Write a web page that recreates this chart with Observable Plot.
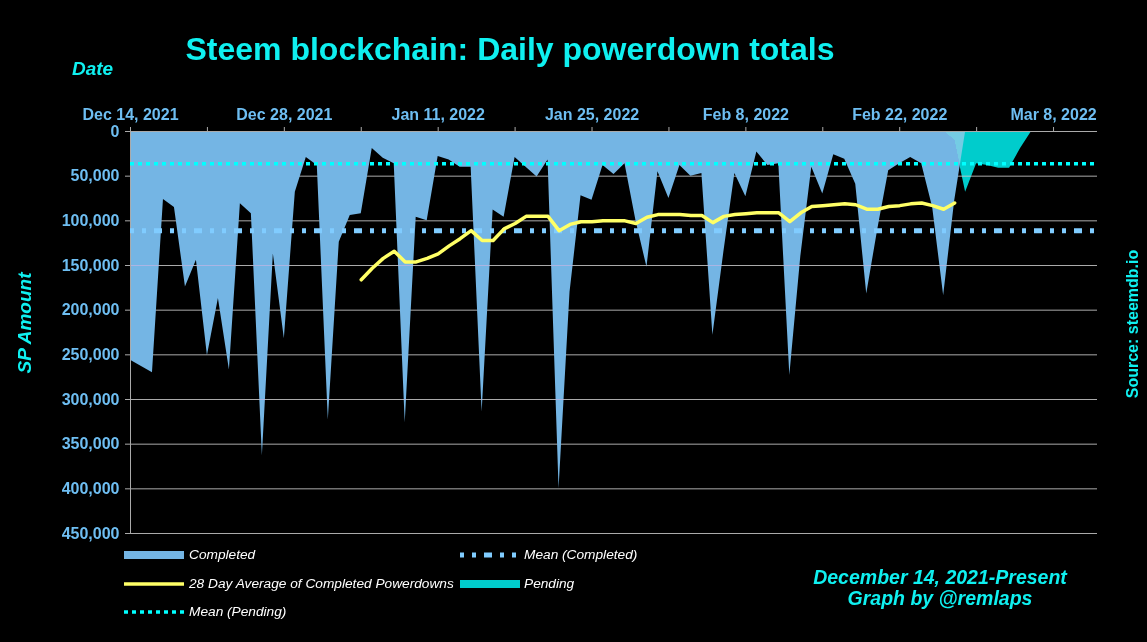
<!DOCTYPE html>
<html><head><meta charset="utf-8">
<script src="https://cdn.jsdelivr.net/npm/d3@7"></script>
<script src="https://cdn.jsdelivr.net/npm/@observablehq/plot@0.6"></script>
<style>
html,body{margin:0;padding:0;background:#000;}
#wrap{position:relative;width:1147px;height:642px;background:#000;overflow:hidden;font-family:"Liberation Sans",Arial,sans-serif;}
#wrap svg{position:absolute;left:0;top:0;}
.t{position:absolute;white-space:nowrap;line-height:1;}
.cyan{color:#0ff0f0;font-weight:bold;}
.leg{color:#fff;font-style:italic;font-size:13.7px;}
</style></head><body><div id="wrap"></div>
<script>
// ---- data ----
const startDate = "2021-12-14";
const completedSP = [256000,263000,270000,76000,85000,174000,144000,251000,187000,267000,
 81000,92000,363000,137000,232000,68000,29000,38000,323000,124000,
 94000,92000,19000,30000,36000,326000,96000,100000,28000,32000,
 40000,40000,314000,88000,96000,29000,40000,51000,32000,400000,
 180000,72000,77000,38000,48000,36000,100000,152000,45000,75000,
 38000,50000,47000,228000,135000,47000,73000,23000,38000,36000,
 273000,140000,40000,70000,26000,31000,59000,182000,110000,44000,
 36000,29000,36000,85000,184000,78000,0];
const pendingStartDay = 74;
const pendingSP = [0,10000,68000,36000,38000,41000,41000,19000,0];
const avgStartDay = 21;
const avg28SP = [166000,153000,142000,134000,146000,146000,142000,137000,128000,120000,
 111000,122000,122000,109000,103000,95000,95000,95000,111000,104000,
 101000,101000,100000,100000,100000,103000,96000,93000,93000,93000,
 94000,94000,102000,95000,93000,92000,91000,91000,91000,101000,
 91000,84000,83000,82000,81000,82000,87000,87000,84000,83000,
 81000,80000,83000,87000,80000];
const meanCompleted = 111000;
const meanPending = 36000;
const xDomain = ["2021-12-14","2022-03-12"];
const weekTicks = ["2021-12-14","2021-12-21","2021-12-28","2022-01-04","2022-01-11","2022-01-18","2022-01-25",
 "2022-02-01","2022-02-08","2022-02-15","2022-02-22","2022-03-01","2022-03-08"];
const labeledTicks = ["2021-12-14","2021-12-28","2022-01-11","2022-01-25","2022-02-08","2022-02-22","2022-03-08"];
const yTicks = [0,50000,100000,150000,200000,250000,300000,350000,400000,450000];
const legendItems = [
  {label:"Completed", kind:"area", color:"#74b5e4"},
  {label:"Mean (Completed)", kind:"dashC", color:"#80ccff"},
  {label:"28 Day Average of Completed Powerdowns", kind:"line", color:"#ffff66"},
  {label:"Pending", kind:"area", color:"#00cccc"},
  {label:"Mean (Pending)", kind:"dashP", color:"#00ffff"}
];

// ---- build ----
const parse = d3.utcParse("%Y-%m-%d");
const start = parse(startDate);
const compRows = completedSP.map((v,i)=>({date:d3.utcDay.offset(start,i), value:v}));
const pendRows = pendingSP.map((v,i)=>({date:d3.utcDay.offset(start,pendingStartDay+i), value:v}));
const avgRows = avg28SP.map((v,i)=>({date:d3.utcDay.offset(start,avgStartDay+i), value:v}));
const labelSet = new Set(labeledTicks.map(s=>parse(s).getTime()));
const fmt = d3.utcFormat("%b %-d, %Y");
const grey = "#aaaaaa";
const tickColor = "#6ebef2";

const chart = Plot.plot({
  width:1147, height:642,
  marginTop:131, marginBottom:109, marginLeft:130, marginRight:50,
  style:{background:"transparent", fontFamily:"Liberation Sans, Arial, sans-serif", overflow:"visible"},
  x:{type:"utc", domain:xDomain.map(parse), label:null},
  y:{domain:[0,450000], reverse:true, label:null},
  marks:[
    Plot.gridY(yTicks, {stroke:grey, strokeOpacity:1}),
    Plot.areaY(pendRows, {x:"date", y:"value", fill:"#00cccc", mixBlendMode:"lighten"}),
    Plot.areaY(compRows, {x:"date", y:"value", fill:"#74b5e4", mixBlendMode:"lighten"}),
    Plot.ruleY([0], {stroke:grey}),
    Plot.ruleX([parse(xDomain[0])], {stroke:grey}),
    Plot.ruleY([meanCompleted], {stroke:"#80ccff", strokeWidth:5, strokeDasharray:"4,8,4,8,8,8"}),
    Plot.ruleY([meanPending], {stroke:"#00ffff", strokeWidth:3.5, strokeDasharray:"4,4"}),
    Plot.lineY(avgRows, {x:"date", y:"value", stroke:"#ffff66", strokeWidth:3.5}),
    Plot.axisX(weekTicks.map(parse), {anchor:"top", tickSize:5, tickPadding:7, stroke:grey, fill:tickColor,
      fontSize:16, fontWeight:"bold", label:null,
      tickFormat:d=>labelSet.has(d.getTime()) ? fmt(d) : ""}),
    Plot.axisY(yTicks, {anchor:"left", tickSize:5, tickPadding:6, stroke:grey, fill:tickColor,
      fontSize:16, fontWeight:"bold", label:null, tickFormat:d3.format(",")})
  ]
});
const wrap = document.getElementById("wrap");
wrap.appendChild(chart);

function addText(txt, css, cls){
  const d = document.createElement("div");
  d.className = "t " + (cls||"");
  d.textContent = txt;
  Object.assign(d.style, css);
  wrap.appendChild(d);
  return d;
}
addText("Steem blockchain: Daily powerdown totals", {left:"0px", width:"1020px", textAlign:"center", top:"33px", fontSize:"32px"}, "cyan");
addText("Date", {left:"72px", top:(75-0.8465*19)+"px", fontSize:"19px", fontStyle:"italic"}, "cyan");
addText("SP Amount", {left:"24px", top:"323px", fontSize:"19px", fontStyle:"italic", transform:"translate(-50%,-50%) rotate(-90deg)"}, "cyan");
addText("Source: steemdb.io", {left:"1133px", top:"324px", fontSize:"16px", transform:"translate(-50%,-50%) rotate(-90deg)"}, "cyan");
addText("December 14, 2021-Present", {left:"940px", top:(585-0.8465*19.5)+"px", fontSize:"19.5px", fontStyle:"italic", transform:"translateX(-50%)"}, "cyan");
addText("Graph by @remlaps", {left:"940px", top:(606-0.8465*19.5)+"px", fontSize:"19.5px", fontStyle:"italic", transform:"translateX(-50%)"}, "cyan");

// legend
const pos = [
  {sx:124, tx:189, cy:555},
  {sx:460, tx:524, cy:555},
  {sx:124, tx:189, cy:583.5},
  {sx:460, tx:524, cy:583.5},
  {sx:124, tx:189, cy:611.5}
];
legendItems.forEach((it,i)=>{
  const p = pos[i];
  const w = 60;
  const svgNS = "http://www.w3.org/2000/svg";
  const s = document.createElementNS(svgNS,"svg");
  s.setAttribute("width", w); s.setAttribute("height", 12);
  s.style.left = p.sx+"px"; s.style.top = (p.cy-6)+"px"; s.style.position="absolute";
  let el;
  if (it.kind==="area"){
    el = document.createElementNS(svgNS,"rect");
    el.setAttribute("x",0); el.setAttribute("y",2); el.setAttribute("width",w); el.setAttribute("height",8);
    el.setAttribute("fill",it.color);
  } else {
    el = document.createElementNS(svgNS,"line");
    el.setAttribute("x1",0); el.setAttribute("x2",w); el.setAttribute("y1",6); el.setAttribute("y2",6);
    el.setAttribute("stroke",it.color);
    if (it.kind==="line") el.setAttribute("stroke-width",3.5);
    if (it.kind==="dashC"){ el.setAttribute("stroke-width",5); el.setAttribute("stroke-dasharray","4,8,4,8,8,8"); }
    if (it.kind==="dashP"){ el.setAttribute("stroke-width",3.5); el.setAttribute("stroke-dasharray","4,4"); }
  }
  s.appendChild(el);
  wrap.appendChild(s);
  addText(it.label, {left:p.tx+"px", top:(p.cy+4.9-0.8465*13.7)+"px"}, "leg");
});
</script></body></html>
